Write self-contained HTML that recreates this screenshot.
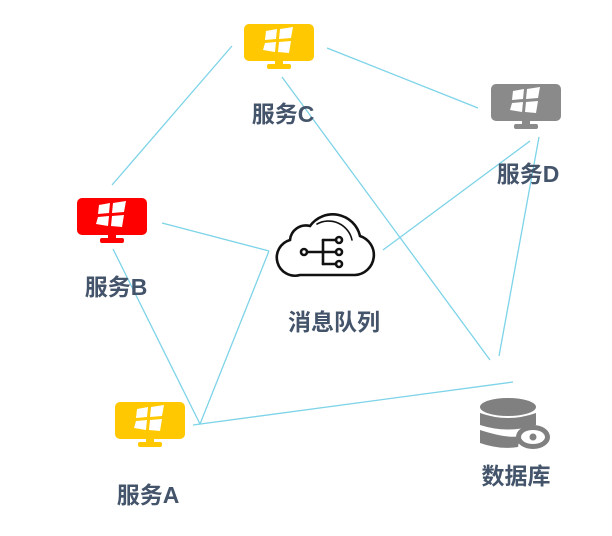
<!DOCTYPE html>
<html><head><meta charset="utf-8"><style>
body{margin:0;background:#fff;width:612px;height:531px;overflow:hidden}
svg text{font-family:"Liberation Sans","Noto Sans CJK SC",sans-serif;font-weight:bold;fill:#44546a;font-size:23px;text-anchor:middle}
</style></head><body>
<svg width="612" height="531" viewBox="0 0 612 531">
<defs>
<g id="win">
<path d="M-13,-11 L-2,-13 L-3,-3 L-14,-2 Z M1,-13 L14,-15 L12,-4 L0,-3 Z M-14,1 L-3,0 L-4,10 L-16,8 Z M0,0 L12,-1 L10,11 L-1,10 Z" fill="#fff"/>
</g>
</defs>
<g stroke="#7dd3e8" stroke-width="1.3" fill="none">
<line x1="112" y1="185" x2="232" y2="46"/>
<line x1="327" y1="48" x2="478" y2="108"/>
<line x1="162" y1="223" x2="269" y2="251"/>
<line x1="383" y1="250" x2="530" y2="141"/>
<line x1="282" y1="77" x2="490" y2="360"/>
<line x1="539" y1="137" x2="499" y2="356"/>
<line x1="113" y1="249" x2="200" y2="424"/>
<line x1="200" y1="424" x2="269" y2="251"/>
<line x1="193" y1="425" x2="513" y2="382"/>
</g>
<g transform="translate(279,42)"><rect x="-35" y="-18" width="70" height="37" rx="5" fill="#ffc800"/><rect x="-4" y="18" width="8" height="5" fill="#ffc800"/><rect x="-12" y="22" width="24" height="5" rx="2" fill="#ffc800"/><use href="#win"/></g>
<g transform="translate(526,102)"><rect x="-35" y="-18" width="70" height="37" rx="5" fill="#8a8a8a"/><rect x="-4" y="18" width="8" height="5" fill="#8a8a8a"/><rect x="-12" y="22" width="24" height="5" rx="2" fill="#8a8a8a"/><use href="#win"/></g>
<g transform="translate(112,216)"><rect x="-35" y="-18" width="70" height="37" rx="5" fill="#ff0000"/><rect x="-4" y="18" width="8" height="5" fill="#ff0000"/><rect x="-12" y="22" width="24" height="5" rx="2" fill="#ff0000"/><use href="#win"/></g>
<g transform="translate(150,420)"><rect x="-35" y="-18" width="70" height="37" rx="5" fill="#ffc800"/><rect x="-4" y="18" width="8" height="5" fill="#ffc800"/><rect x="-12" y="22" width="24" height="5" rx="2" fill="#ffc800"/><use href="#win"/></g>
<g fill="none" stroke="#111" stroke-width="2.6" stroke-linecap="round">
<path d="M300,275 H355 A20,20 0 0 0 360,236 A28,28 0 0 0 310,226 A16,16 0 0 0 290,240 A18,18 0 0 0 300,275 Z"/>
<path d="M317,224 A24,24 0 0 1 352,240" stroke-width="1.6"/>
<line x1="307" y1="252" x2="323" y2="252"/>
<line x1="323" y1="240" x2="323" y2="264"/>
<line x1="323" y1="240" x2="336" y2="240"/><line x1="323" y1="252" x2="336" y2="252"/><line x1="323" y1="264" x2="336" y2="264"/>
<circle cx="304" cy="252" r="3"/><circle cx="339" cy="240" r="3"/><circle cx="339" cy="252" r="3"/><circle cx="339" cy="264" r="3"/>
</g>
<g fill="#808080">
<ellipse cx="508" cy="407" rx="28" ry="9"/>
<path d="M480,413 Q508,423 536,413 V425 Q508,434 480,425 Z"/>
<path d="M480,430 Q508,439 520,436 L518,447 Q500,450 480,443 Z"/>
<ellipse cx="533" cy="437" rx="17" ry="12"/>
</g>
<ellipse cx="533" cy="437" rx="12" ry="7" fill="#fff"/>
<circle cx="533" cy="437" r="3.5" fill="#808080"/>
<text x="283" y="122">服务C</text>
<text x="528" y="182">服务D</text>
<text x="116" y="295">服务B</text>
<text x="148" y="503">服务A</text>
<text x="334" y="330">消息队列</text>
<text x="516" y="484">数据库</text>
</svg>
</body></html>
